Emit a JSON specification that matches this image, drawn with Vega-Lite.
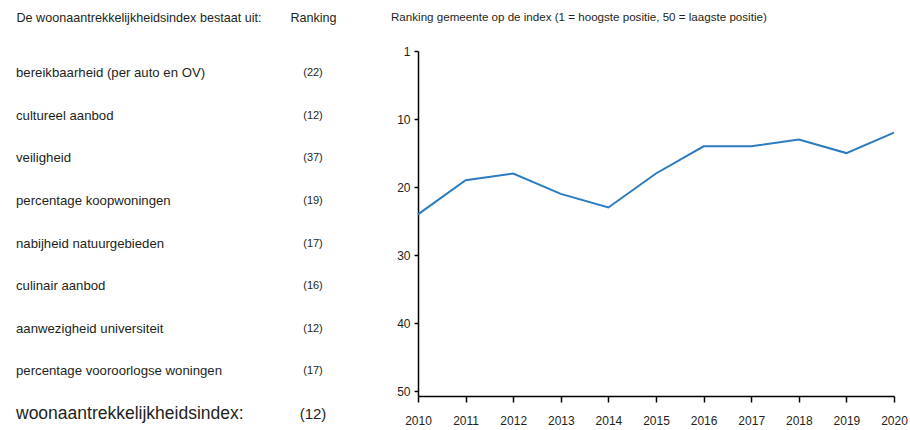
{
  "$schema": "https://vega.github.io/schema/vega-lite/v6.json",
  "background": "white",
  "padding": {"left": 16, "top": 11, "right": 0, "bottom": 0},
  "config": {
    "view": {"stroke": null},
    "font": "Liberation Sans",
    "concat": {"spacing": 54},
    "axis": {"labelColor": "#231f20", "labelFont": "Liberation Sans", "grid": false}
  },
  "datasets": {
    "parts": [
      {"onderdeel": "bereikbaarheid (per auto en OV)", "ranking": "(22)", "totaal": false},
      {"onderdeel": "cultureel aanbod", "ranking": "(12)", "totaal": false},
      {"onderdeel": "veiligheid", "ranking": "(37)", "totaal": false},
      {"onderdeel": "percentage koopwoningen", "ranking": "(19)", "totaal": false},
      {"onderdeel": "nabijheid natuurgebieden", "ranking": "(17)", "totaal": false},
      {"onderdeel": "culinair aanbod", "ranking": "(16)", "totaal": false},
      {"onderdeel": "aanwezigheid universiteit", "ranking": "(12)", "totaal": false},
      {"onderdeel": "percentage vooroorlogse woningen", "ranking": "(17)", "totaal": false},
      {"onderdeel": "woonaantrekkelijkheidsindex:", "ranking": "(12)", "totaal": true}
    ],
    "trend": [
      {"jaar": 2010, "ranking": 24},
      {"jaar": 2011, "ranking": 19},
      {"jaar": 2012, "ranking": 18},
      {"jaar": 2013, "ranking": 21},
      {"jaar": 2014, "ranking": 23},
      {"jaar": 2015, "ranking": 18},
      {"jaar": 2016, "ranking": 14},
      {"jaar": 2017, "ranking": 14},
      {"jaar": 2018, "ranking": 13},
      {"jaar": 2019, "ranking": 15},
      {"jaar": 2020, "ranking": 12}
    ]
  },
  "hconcat": [
    {
      "width": 297,
      "height": 363,
      "data": {"name": "parts"},
      "encoding": {
        "y": {
          "field": "onderdeel",
          "type": "nominal",
          "sort": null,
          "scale": {"type": "point", "range": [22, 363], "padding": 0},
          "axis": null
        }
      },
      "layer": [
        {
          "mark": {"type": "text", "align": "left", "baseline": "middle", "color": "#231f20"},
          "encoding": {
            "x": {
              "datum": 0,
              "type": "quantitative",
              "scale": {"domain": [0, 1], "nice": false, "zero": false},
              "axis": {
                "orient": "top",
                "values": [0, 1],
                "domain": false,
                "ticks": false,
                "title": null,
                "labelFontSize": 12.6,
                "labelLimit": 0,
                "labelPadding": 27,
                "labelExpr": "datum.value == 0 ? 'De woonaantrekkelijkheidsindex bestaat uit:' : 'Ranking'",
                "labelAlign": {"condition": {"test": "datum.value == 0", "value": "left"}, "value": "center"}
              }
            },
            "text": {"field": "onderdeel"},
            "size": {"condition": {"test": "datum.totaal === true", "value": 17.5}, "value": 13.2}
          }
        },
        {
          "mark": {"type": "text", "align": "center", "baseline": "middle", "color": "#231f20"},
          "encoding": {
            "x": {"datum": 1, "type": "quantitative"},
            "text": {"field": "ranking"},
            "size": {"condition": {"test": "datum.totaal === true", "value": 15}, "value": 11}
          }
        }
      ]
    },
    {
      "width": 476,
      "height": 345,
      "data": {"name": "trend"},
      "title": {
        "text": "Ranking gemeente op de index (1 = hoogste positie, 50 = laagste positie)",
        "anchor": "start",
        "frame": "group",
        "dx": -27,
        "fontSize": 11.6,
        "fontWeight": "normal",
        "color": "#231f20",
        "offset": 21
      },
      "mark": {"type": "line", "color": "#2b7bc0", "strokeWidth": 2},
      "encoding": {
        "x": {
          "field": "jaar",
          "type": "quantitative",
          "scale": {"domain": [2010, 2020], "nice": false, "zero": false},
          "axis": {
            "values": [2010, 2011, 2012, 2013, 2014, 2015, 2016, 2017, 2018, 2019, 2020],
            "format": "d",
            "title": null,
            "domainColor": "#000000",
            "domainWidth": 1.5,
            "tickColor": "#000000",
            "tickWidth": 1.5,
            "tickSize": 6,
            "labelFontSize": 12,
            "labelPadding": 13,
            "labelFlush": false
          }
        },
        "y": {
          "field": "ranking",
          "type": "quantitative",
          "scale": {"domain": [0, 50.7], "reverse": true, "nice": false, "zero": false},
          "axis": {
            "values": [0, 10, 20, 30, 40, 50],
            "labelExpr": "datum.value == 0 ? '1' : datum.label",
            "title": null,
            "domainColor": "#000000",
            "domainWidth": 1.5,
            "tickColor": "#000000",
            "tickWidth": 1.5,
            "tickSize": 4,
            "labelFontSize": 12,
            "labelPadding": 4,
            "labelFlush": false
          }
        }
      }
    }
  ]
}
